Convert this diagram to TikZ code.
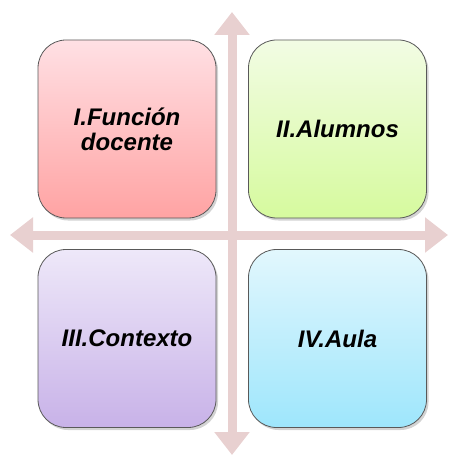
\documentclass[tikz,border=0pt]{standalone}
\usepackage{fontspec}
\setmainfont{Liberation Sans}
\usepackage{xcolor}
\usepackage{tikz}
\usetikzlibrary{arrows.meta, shadows}

\definecolor{axiscol}{RGB}{232,208,208}
\definecolor{redtop}{RGB}{255,224,228}
\definecolor{redbot}{RGB}{255,163,163}
\definecolor{greentop}{RGB}{242,252,228}
\definecolor{greenbot}{RGB}{214,250,158}
\definecolor{violettop}{RGB}{238,232,249}
\definecolor{violetbot}{RGB}{200,178,232}
\definecolor{bluetop}{RGB}{226,247,253}
\definecolor{bluebot}{RGB}{158,230,252}

\begin{document}
\begin{tikzpicture}[
    x=1pt, y=-1pt,
    axis/.style={draw=axiscol, line width=9pt,
      {Triangle[width=34pt, length=23pt]}-{Triangle[width=34pt, length=23pt]}},
    quad/.style={rounded corners=28pt, draw=black!65, line width=0.8pt,
      minimum width=178pt, minimum height=178pt, inner sep=0pt,
      text width=168pt, align=center,
      font=\fontsize{24}{25}\selectfont\bfseries\itshape,
      drop shadow={shadow xshift=2pt, shadow yshift=-2.5pt, opacity=0.35}}
  ]
  \useasboundingbox (0,0) rectangle (449,457);

  % Axes
  \coordinate (ytop) at (232, 12);
  \coordinate (ybot) at (232, 455);
  \coordinate (xleft) at (10, 235);
  \coordinate (xright) at (448, 235);
  \draw[axis] (ybot) -- (ytop);
  \draw[axis] (xleft) -- (xright);

  % Quadrants
  \node[quad, top color=redtop, bottom color=redbot]       (funcion)  at (127, 129) {I.Función\\docente};
  \node[quad, top color=greentop, bottom color=greenbot]   (alumnos)  at (337.5, 129) {II.Alumnos};
  \node[quad, top color=violettop, bottom color=violetbot] (contexto) at (127, 338.5) {III.Contexto};
  \node[quad, top color=bluetop, bottom color=bluebot]     (aula)     at (337.5, 338.5) {IV.Aula};
\end{tikzpicture}
\end{document}
